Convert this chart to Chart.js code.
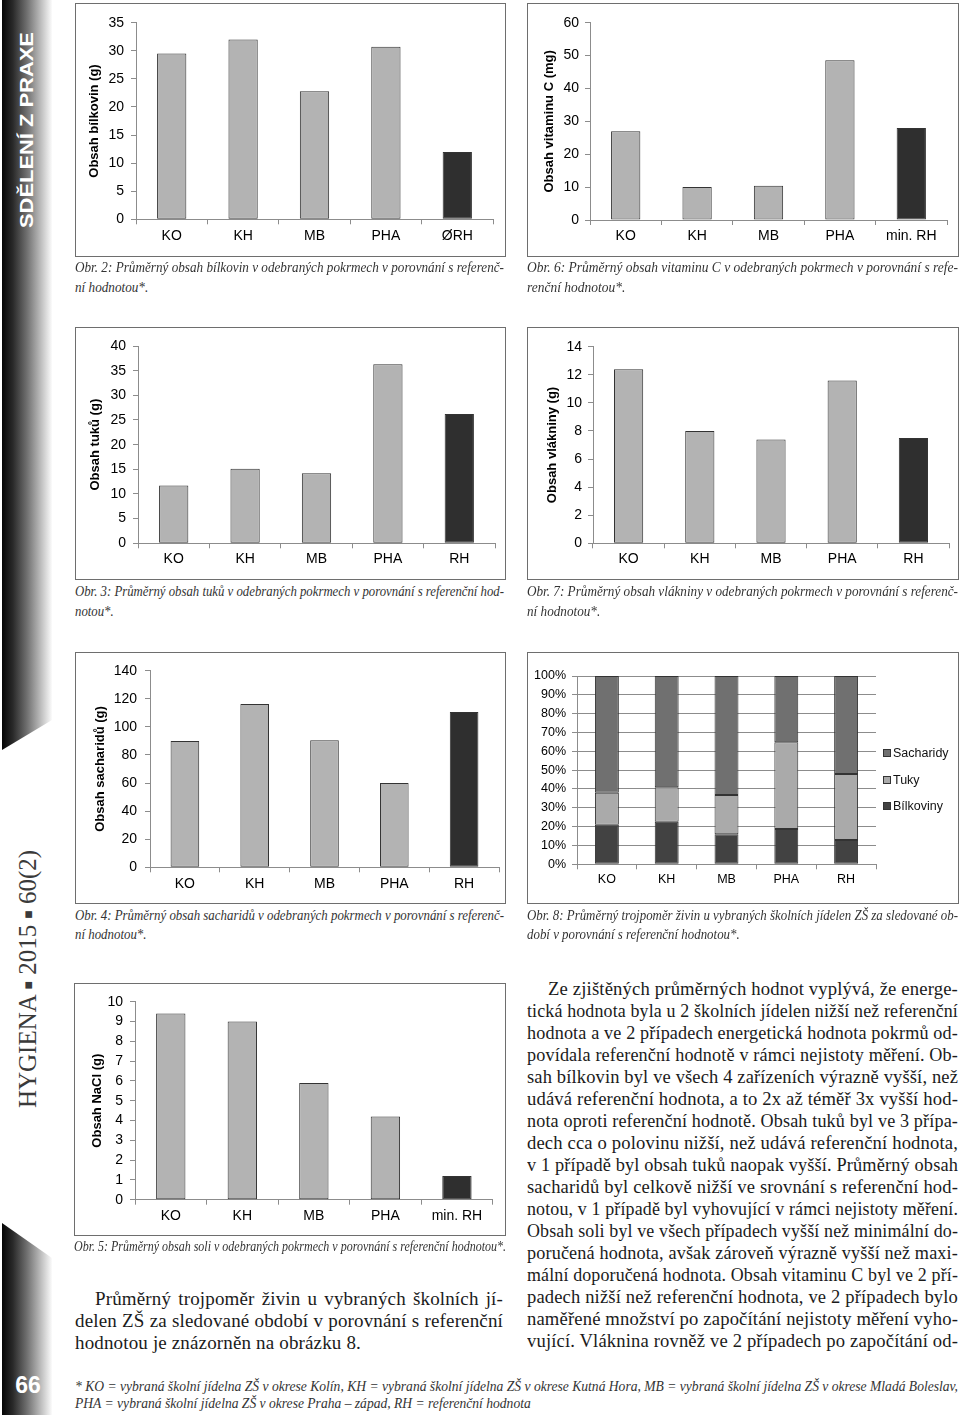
<!DOCTYPE html>
<html lang="cs">
<head>
<meta charset="utf-8">
<title>Hygiena 2015 60(2) – s. 66</title>
<script src="https://cdn.jsdelivr.net/npm/chart.js@4.4.1/dist/chart.umd.min.js"></script>
<style>
  html, body { margin: 0; padding: 0; background: #fff; }
  body { position: relative; width: 960px; height: 1415px; overflow: hidden; }
  canvas { position: absolute; }
  .frame { position: absolute; box-sizing: border-box; border: 1px solid #6e6e6e; pointer-events: none; }
  .ln { position: absolute; white-space: nowrap; transform-origin: 0 50%; }
  .body { font: 19px/20px "Liberation Serif", serif; letter-spacing: 0.15px; color: #1b1b1b; }
  .cap { font: italic 14px/16px "Liberation Serif", serif; color: #333; }
  .band { position: absolute; left: 2px; width: 50px;
    background: linear-gradient(90deg, #050505 0%, #2a2a2a 22%, #707070 50%, #bebebe 78%, #fbfbfb 100%); }
  .rot { position: absolute; white-space: nowrap; transform-origin: 0 0; line-height: 1; }
  .legend { position: absolute; font: 12.5px "Liberation Sans", sans-serif; color: #111; }
  .legend div { height: 26.5px; line-height: 16px; white-space: nowrap; }
  .legend i { display: inline-block; width: 6px; height: 6px; border: 1px solid #333; margin-right: 2px; vertical-align: 0; }
</style>
</head>
<body>
<div class="band" style="top:0;height:750px;clip-path:polygon(0 0,100% 0,100% 720px,0 750px)"></div>
<div class="band" style="top:1223px;height:192px;clip-path:polygon(0 0,100% 35px,100% 100%,0 100%)"></div>
<script>
  // values
  const siteLabels = ['KO', 'KH', 'MB', 'PHA', 'RH'];
  const proteinLabels = ['KO', 'KH', 'MB', 'PHA', 'ØRH'];
  const minLabels = ['KO', 'KH', 'MB', 'PHA', 'min. RH'];

  const proteinValues = [29.5, 32.0, 22.8, 30.7, 12.0];
  const fatValues = [11.7, 15.1, 14.2, 36.3, 26.2];
  const carbValues = [90.0, 116.3, 90.4, 60.0, 110.6];
  const saltValues = [9.4, 9.0, 5.9, 4.2, 1.2];
  const vitCValues = [27.0, 10.0, 10.4, 48.6, 28.0];
  const fibreValues = [12.4, 8.0, 7.4, 11.6, 7.5];

  const ratioProtein = [21.0, 22.6, 15.9, 18.7, 12.9];
  const ratioFat = [17.0, 18.3, 20.9, 46.1, 35.1];
  const ratioCarb = [62.0, 59.1, 63.2, 35.2, 52.0];

  // y axis: [min, max, step]
  const proteinTicks = [0, 35, 5];
  const fatTicks = [0, 40, 5];
  const carbTicks = [0, 140, 20];
  const saltTicks = [0, 10, 1];
  const vitCTicks = [0, 60, 10];
  const fibreTicks = [0, 14, 2];
  const ratioTicks = [0, 100, 10];

  const sans = '"Liberation Sans", Arial, sans-serif';
  const axisGray = '#8c8c8c';
  const barGray = '#b3b3b3';
  const refDark = '#2f2f2f';
  const edge = '#333333';
  Chart.defaults.font.family = sans;

  function addCanvas(box) {
    const [l, t, r, b] = box;
    const cv = document.createElement('canvas');
    cv.width = r - l; cv.height = b - t;
    cv.style.left = l + 'px'; cv.style.top = t + 'px';
    document.body.appendChild(cv);
    const f = document.createElement('div');
    f.className = 'frame';
    f.style.cssText = `left:${l}px;top:${t}px;width:${r - l}px;height:${b - t}px`;
    document.body.appendChild(f);
    return cv;
  }

  function axes(o) {
    const [bl, bt, br, bb] = o.box, [pl, pt, pr, pb] = o.plot;
    const yTicks = { stepSize: o.ticks[2], color: '#000', font: { size: o.font || 14 }, padding: pl - o.yRight - 5 };
    if (o.fmt) yTicks.callback = o.fmt;
    return {
      responsive: false, animation: false, events: [],
      layout: { padding: { left: 0, top: pt - bt, right: br - pr, bottom: 0 } },
      plugins: { legend: { display: false }, tooltip: { enabled: false } },
      scales: {
        x: {
          stacked: !!o.stacked,
          grid: { offset: true, drawOnChartArea: false, tickLength: 5, color: axisGray },
          border: { color: axisGray },
          ticks: { color: '#000', font: { size: o.font || 14 }, padding: o.xPad, maxRotation: 0, autoSkip: false },
          afterFit: s => { s.height = bb - pb; }
        },
        y: {
          stacked: !!o.stacked, min: o.ticks[0], max: o.ticks[1],
          grid: { drawOnChartArea: !!o.gridLines, tickLength: 5, color: axisGray },
          border: { color: axisGray },
          ticks: yTicks,
          title: o.title
            ? { display: true, text: o.title, color: '#000', font: { size: 13, weight: 'bold' }, padding: { top: o.titleX - bl - 7.8, bottom: 0 } }
            : { display: false },
          afterFit: s => { s.width = pl - bl; }
        }
      }
    };
  }

  function barChart(o) {
    const cv = addCanvas(o.box);
    return new Chart(cv, {
      type: 'bar',
      data: {
        labels: o.labels,
        datasets: [{
          data: o.values,
          backgroundColor: o.values.map((v, i) => i === o.values.length - 1 ? refDark : barGray),
          borderColor: edge, borderWidth: 1, borderSkipped: false,
          barPercentage: 0.41, categoryPercentage: 1
        }]
      },
      options: axes(o)
    });
  }

  barChart({ box: [75, 3, 506, 257], plot: [136, 22.7, 493, 219.3], labels: proteinLabels, values: proteinValues,
    ticks: proteinTicks, title: 'Obsah bílkovin (g)', titleX: 94, yRight: 124, xPad: 3 });
  barChart({ box: [527, 3, 959, 257], plot: [590, 22.7, 947, 220], labels: minLabels, values: vitCValues,
    ticks: vitCTicks, title: 'Obsah vitaminu C (mg)', titleX: 549, yRight: 579, xPad: 3 });
  barChart({ box: [75, 327, 506, 580], plot: [138, 346, 495, 543.3], labels: siteLabels, values: fatValues,
    ticks: fatTicks, title: 'Obsah tuků (g)', titleX: 95, yRight: 126, xPad: 2.5 });
  barChart({ box: [527, 327, 959, 580], plot: [593, 346.7, 949, 543.3], labels: siteLabels, values: fibreValues,
    ticks: fibreTicks, title: 'Obsah vlákniny (g)', titleX: 552, yRight: 582, xPad: 2.5 });
  barChart({ box: [75, 652, 506, 904], plot: [150, 670.7, 499, 867.3], labels: siteLabels, values: carbValues,
    ticks: carbTicks, title: 'Obsah sacharidů (g)', titleX: 100, yRight: 137, xPad: 3 });
  barChart({ box: [74, 983, 506, 1236], plot: [135, 1001.7, 492.7, 1199.7], labels: minLabels, values: saltValues,
    ticks: saltTicks, title: 'Obsah NaCl (g)', titleX: 97, yRight: 123, xPad: 3.5 });

  // Obr. 8 – stacked percentages
  const ratioSets = [
    { label: 'Bílkoviny', data: ratioProtein, backgroundColor: '#424242' },
    { label: 'Tuky', data: ratioFat, backgroundColor: '#aaaaaa' },
    { label: 'Sacharidy', data: ratioCarb, backgroundColor: '#707070' }
  ];
  const ratioBox = [527, 652, 959, 904];
  new Chart(addCanvas(ratioBox), {
    type: 'bar',
    data: {
      labels: siteLabels,
      datasets: ratioSets.map(s => Object.assign({
        borderColor: edge, borderWidth: 1, borderSkipped: false, barPercentage: 0.4, categoryPercentage: 1
      }, s))
    },
    options: axes({ box: ratioBox, plot: [577, 676, 876, 864.3], ticks: ratioTicks, stacked: true, gridLines: true,
      font: 12.5, yRight: 566, xPad: 2.5, fmt: v => v + '%' })
  });
  const lg = document.createElement('div');
  lg.className = 'legend';
  lg.style.left = '883px'; lg.style.top = '745px';
  ratioSets.slice().reverse().forEach(s => {
    const row = document.createElement('div');
    row.innerHTML = `<i style="background:${s.backgroundColor}"></i>${s.label}`;
    lg.appendChild(row);
  });
  document.body.appendChild(lg);

  // text
  function line(txt, x, y, w, cls, justify, k0) {
    const d = document.createElement('div');
    d.className = 'ln ' + cls;
    d.textContent = txt;
    d.style.left = x + 'px';
    document.body.appendChild(d);
    const cs = getComputedStyle(d);
    const lh = parseFloat(cs.lineHeight), fs = parseFloat(cs.fontSize);
    d.style.top = (y - lh / 2 - (cls === 'body' ? -1 : fs * 0.08)) + 'px';
    const nat = d.getBoundingClientRect().width;
    let k = k0 || 1;
    if (justify) {
      k = 1;
      if (nat > w) k = w / nat;
      else {
        const gaps = txt.split(' ').length - 1;
        if (gaps) d.style.wordSpacing = ((w - nat) / gaps) + 'px';
      }
    }
    if (k < 1) d.style.transform = `scaleX(${k})`;
    return k;
  }
  function para(lines, x, y0, step, w, cls, indent, lastPlain) {
    let k = 1;
    lines.forEach((t, i) => {
      const ind = i === 0 ? indent : 0;
      const last = lastPlain && i === lines.length - 1;
      k = line(t, x + ind, y0 + i * step, w - ind, cls, !last, last ? k : 1);
    });
  }

  para(['Obr. 2: Průměrný obsah bílkovin v odebraných pokrmech v porovnání s referenč-', 'ní hodnotou*.'],
    75, 269, 20, 429, 'cap', 0, true);
  para(['Obr. 6: Průměrný obsah vitaminu C v odebraných pokrmech v porovnání s refe-', 'renční hodnotou*.'],
    527, 269, 20, 431, 'cap', 0, true);
  para(['Obr. 3: Průměrný obsah tuků v odebraných pokrmech v porovnání s referenční hod-', 'notou*.'],
    75, 593, 20, 429, 'cap', 0, true);
  para(['Obr. 7: Průměrný obsah vlákniny v odebraných pokrmech v porovnání s referenč-', 'ní hodnotou*.'],
    527, 593, 20, 431, 'cap', 0, true);
  para(['Obr. 4: Průměrný obsah sacharidů v odebraných pokrmech v porovnání s referenč-', 'ní hodnotou*.'],
    75, 917, 19, 429, 'cap', 0, true);
  para(['Obr. 8: Průměrný trojpoměr živin u vybraných školních jídelen ZŠ za sledované ob-', 'dobí v porovnání s referenční hodnotou*.'],
    527, 917, 19, 431, 'cap', 0, true);
  para(['Obr. 5: Průměrný obsah soli v odebraných pokrmech v porovnání s referenční hodnotou*.'],
    74, 1248, 20, 432, 'cap', 0, false);

  para(['Průměrný trojpoměr živin u vybraných školních jí-',
        'delen ZŠ za sledované období v porovnání s referenční',
        'hodnotou je znázorněn na obrázku 8.'],
    75, 1298, 22, 428, 'body', 20, true);

  para(['Ze zjištěných průměrných hodnot vyplývá, že energe-',
        'tická hodnota byla u 2 školních jídelen nižší než referenční',
        'hodnota a ve 2 případech energetická hodnota pokrmů od-',
        'povídala referenční hodnotě v rámci nejistoty měření. Ob-',
        'sah bílkovin byl ve všech 4 zařízeních výrazně vyšší, než',
        'udává referenční hodnota, a to 2x až téměř 3x vyšší hod-',
        'nota oproti referenční hodnotě. Obsah tuků byl ve 3 přípa-',
        'dech cca o polovinu nižší, než udává referenční hodnota,',
        'v 1 případě byl obsah tuků naopak vyšší. Průměrný obsah',
        'sacharidů byl celkově nižší ve srovnání s referenční hod-',
        'notou, v 1 případě byl vyhovující v rámci nejistoty měření.',
        'Obsah soli byl ve všech případech vyšší než minimální do-',
        'poručená hodnota, avšak zároveň výrazně vyšší než maxi-',
        'mální doporučená hodnota. Obsah vitaminu C byl ve 2 pří-',
        'padech nižší než referenční hodnota, ve 2 případech bylo',
        'naměřené množství po započítání nejistoty měření vyho-',
        'vující. Vláknina rovněž ve 2 případech po započítání od-'],
    527, 988, 22, 431, 'body', 21, false);

  para(['* KO = vybraná školní jídelna ZŠ v okrese Kolín, KH = vybraná školní jídelna ZŠ v okrese Kutná Hora, MB = vybraná školní jídelna ZŠ v okrese Mladá Boleslav,',
        'PHA = vybraná školní jídelna ZŠ v okrese Praha – západ, RH = referenční hodnota'],
    75, 1388, 17, 883, 'cap', 0, true);

  // margin texts
  function rotText(html, cx, cy, len, css) {
    const d = document.createElement('div');
    d.className = 'rot';
    d.style.cssText = css + `;left:${cx}px;top:${cy}px`;
    d.innerHTML = html;
    document.body.appendChild(d);
    const k = len / d.getBoundingClientRect().width;
    d.style.transform = `rotate(-90deg) scaleX(${k}) translate(-50%,-50%)`;
  }
  rotText('SDĚLENÍ Z PRAXE', 27, 130, 196, 'font:bold 19px "Liberation Sans",sans-serif;color:#fff');
  rotText('HYGIENA <span style="font-size:55%;vertical-align:18%">■</span> 2015 <span style="font-size:55%;vertical-align:18%">■</span> 60(2)',
    28, 979, 258, 'font:25px "Liberation Serif",serif;color:#3a3a3a');

  const pg = document.createElement('div');
  pg.textContent = '66';
  pg.style.cssText = 'position:absolute;left:10px;top:1372px;width:36px;text-align:center;font:bold 23px "Liberation Sans",sans-serif;color:#fff';
  document.body.appendChild(pg);
</script>
</body>
</html>
